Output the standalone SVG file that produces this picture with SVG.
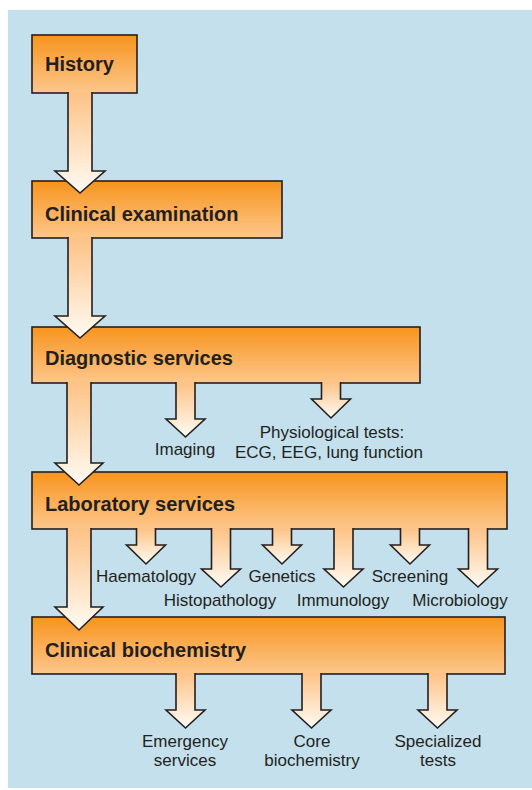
<svg xmlns="http://www.w3.org/2000/svg" width="532" height="790" viewBox="0 0 532 790">
<defs>
<linearGradient id="boxg" x1="0" y1="0" x2="0" y2="1">
<stop offset="0" stop-color="#f7941d"/>
<stop offset="1" stop-color="#fdc78c"/>
</linearGradient>
<linearGradient id="arrg" x1="0" y1="0" x2="0" y2="1">
<stop offset="0" stop-color="#fdc285"/>
<stop offset="1" stop-color="#fffbf4"/>
</linearGradient>
</defs>
<style>
.box{fill:url(#boxg);stroke:#231f20;stroke-width:1.6}
.arr{fill:url(#arrg);stroke:#231f20;stroke-width:1.6;stroke-linejoin:miter}
.title{font-family:"Liberation Sans",Arial,sans-serif;font-weight:bold;font-size:20px;fill:#231f20}
.lbl{font-family:"Liberation Sans",Arial,sans-serif;font-size:17px;fill:#231f20;text-anchor:middle}
</style>
<rect x="8" y="10" width="524" height="778" fill="#c4e0ec"/>
<g id="history"><rect class="box" x="32" y="35" width="105" height="58"/><text class="title" x="45" y="71">History</text></g>
<g id="clinical-examination"><rect class="box" x="32" y="181" width="250" height="57"/><text class="title" x="45" y="221">Clinical examination</text></g>
<g id="diagnostic-services"><rect class="box" x="32" y="327" width="388" height="56"/><text class="title" x="45" y="365">Diagnostic services</text></g>
<g id="laboratory-services"><rect class="box" x="32" y="472" width="475" height="57"/><text class="title" x="45" y="511">Laboratory services</text></g>
<g id="clinical-biochemistry"><rect class="box" x="32" y="617" width="473" height="57"/><text class="title" x="45" y="657">Clinical biochemistry</text></g>
<g id="imaging"><text class="lbl" x="185" y="455">Imaging</text></g>
<g id="physiological-tests"><text class="lbl" x="332" y="438">Physiological tests:</text><text class="lbl" x="329" y="458">ECG, EEG, lung function</text></g>
<g id="haematology"><text class="lbl" x="146" y="582">Haematology</text></g>
<g id="genetics"><text class="lbl" x="282" y="582">Genetics</text></g>
<g id="screening"><text class="lbl" x="410" y="582">Screening</text></g>
<g id="histopathology"><text class="lbl" x="220" y="606">Histopathology</text></g>
<g id="immunology"><text class="lbl" x="343" y="606">Immunology</text></g>
<g id="microbiology"><text class="lbl" x="460" y="606">Microbiology</text></g>
<g id="emergency-services"><text class="lbl" x="185" y="747">Emergency</text><text class="lbl" x="185" y="766">services</text></g>
<g id="core-biochemistry"><text class="lbl" x="312" y="747">Core</text><text class="lbl" x="312" y="766">biochemistry</text></g>
<g id="specialized-tests"><text class="lbl" x="438" y="747">Specialized</text><text class="lbl" x="438" y="766">tests</text></g>
<g id="connectors">
<path class="arr" d="M68,92 V171 H55 L80,193 L105,171 H92 V92"/>
<path class="arr" d="M68,237 V316 H55 L80,338 L105,316 H92 V237"/>
<path class="arr" d="M67,382 V463 H55 L79,485 L103,463 H91 V382"/>
<path class="arr" d="M67,528 V607 H55 L79,630 L103,607 H91 V528"/>
<path class="arr" d="M176,382 V419 H166 L185.5,437 L205,419 H195 V382"/>
<path class="arr" d="M321.5,382 V399 H311.5 L331,418 L350.5,399 H340.5 V382"/>
<path class="arr" d="M136.5,528 V545 H126.5 L146,564 L165.5,545 H155.5 V528"/>
<path class="arr" d="M211.5,528 V569 H201.5 L221,587 L240.5,569 H230.5 V528"/>
<path class="arr" d="M272.5,528 V545 H262.5 L282,564 L301.5,545 H291.5 V528"/>
<path class="arr" d="M334,528 V569 H324 L343.5,587 L363,569 H353 V528"/>
<path class="arr" d="M400.5,528 V545 H390.5 L410,564 L429.5,545 H419.5 V528"/>
<path class="arr" d="M468.5,528 V569 H458.5 L478,587 L497.5,569 H487.5 V528"/>
<path class="arr" d="M176,673 V710 H166 L185.5,728 L205,710 H195 V673"/>
<path class="arr" d="M302,673 V710 H292 L311.5,728 L331,710 H321 V673"/>
<path class="arr" d="M428,673 V710 H418 L437.5,728 L457,710 H447 V673"/>
</g>
</svg>
